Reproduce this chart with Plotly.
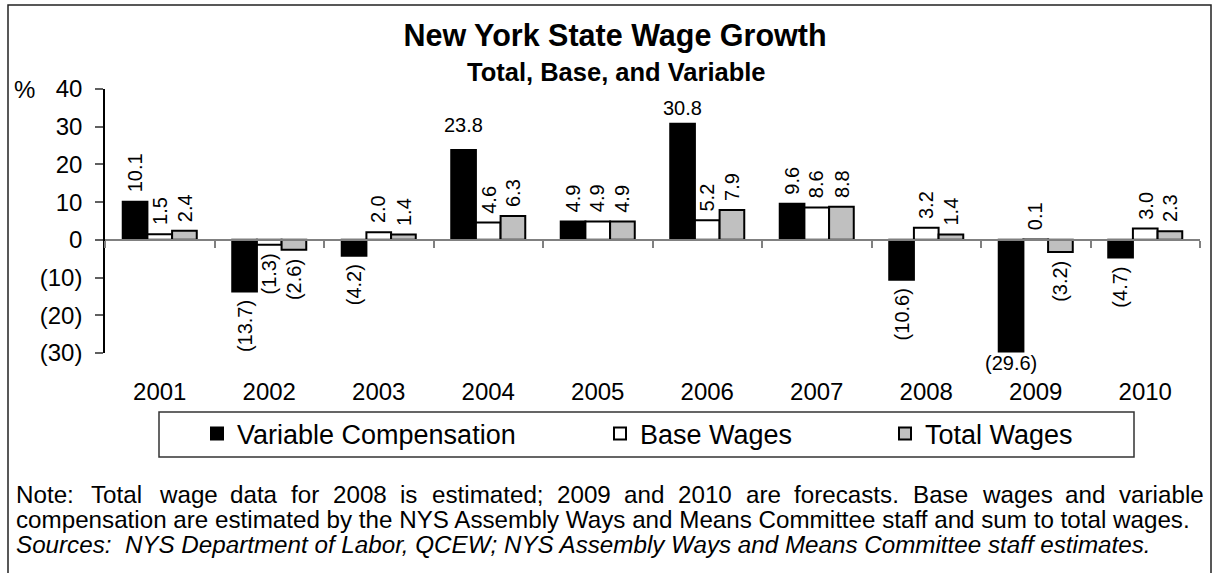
import plotly.graph_objects as go

# ---------------- data ----------------
years = ["2001", "2002", "2003", "2004", "2005", "2006", "2007", "2008", "2009", "2010"]
variable_comp = [10.1, -13.7, -4.2, 23.8, 4.9, 30.8, 9.6, -10.6, -29.6, -4.7]
base_wages = [1.5, -1.3, 2.0, 4.6, 4.9, 5.2, 8.6, 3.2, 0.1, 3.0]
total_wages = [2.4, -2.6, 1.4, 6.3, 4.9, 7.9, 8.8, 1.4, -3.2, 2.3]
series_names = ["Variable Compensation", "Base Wages", "Total Wages"]
y_tick_values = [-30, -20, -10, 0, 10, 20, 30, 40]
y_tick_labels = ["(30)", "(20)", "(10)", "0", "10", "20", "30", "40"]

title_text = "New York State Wage Growth"
subtitle_text = "Total, Base, and Variable"
note_line1 = "Note:  Total wage data for 2008 is estimated; 2009 and 2010 are forecasts. Base wages and variable"
note_line2 = "compensation are estimated by the NYS Assembly Ways and Means Committee staff and sum to total wages."
note_line3 = "Sources:\u00a0 NYS Department of Labor, QCEW; NYS Assembly Ways and Means Committee staff estimates."

# ---------------- styling / layout constants ----------------
W, H = 1217, 573
L, R, T, B = 105, 17, 89, 220
PW, PH = W - L - R, H - T - B
FONT = "Liberation Sans, Arial, sans-serif"
BARGAP = 0.324
colors = ["#000000", "#FFFFFF", "#C0C0C0"]
legends = ["legend", "legend2", "legend3"]
# labels drawn horizontally (with their own vertical gap, px)
horizontal_labels = {(0, 3): 13, (0, 5): 4, (0, 8): 0}


def xp(px):
    return (px - L) / PW


def yp(py):
    return (H - B - py) / PH


def fmt(v):
    return f"({abs(v):.1f})" if v < 0 else f"{v:.1f}"


fig = go.Figure()
series = [variable_comp, base_wages, total_wages]
for name, vals, col, leg in zip(series_names, series, colors, legends):
    fig.add_trace(go.Bar(
        x=years, y=vals, name=name, legend=leg,
        marker=dict(color=col, line=dict(color="black", width=2)),
        hoverinfo="x+y+name",
    ))

# helper trace so the zero-line category axis exists
fig.add_trace(go.Scatter(x=years, y=[0] * len(years), xaxis="x2", mode="none",
                         showlegend=False, hoverinfo="skip"))

annotations = []
bar_px = PW / len(years) * (1 - BARGAP) / 3
for si, vals in enumerate(series):
    off = (si - 1) * bar_px
    for ci, v in enumerate(vals):
        key = (si, ci)
        if key in horizontal_labels:
            g = horizontal_labels[key]
            annotations.append(dict(
                x=ci, y=v, xref="x", yref="y", text=fmt(v), showarrow=False,
                xshift=off, yshift=g if v >= 0 else -g,
                yanchor="bottom" if v >= 0 else "top", xanchor="center",
                font=dict(family=FONT, size=20, color="black"), borderpad=0))
        else:
            annotations.append(dict(
                x=ci, y=v, xref="x", yref="y", text=fmt(v), showarrow=False,
                textangle=-90, xshift=off, yshift=8 if v >= 0 else -8,
                yanchor="bottom" if v >= 0 else "top", xanchor="center",
                font=dict(family=FONT, size=20, color="black"), borderpad=0))

# percent sign
annotations.append(dict(x=xp(24), y=40, xref="paper", yref="y", text="%", showarrow=False,
                        xanchor="center", yanchor="middle",
                        font=dict(family=FONT, size=24, color="black")))

# subtitle
annotations.append(dict(x=xp(616), y=yp(72), xref="paper", yref="paper",
                        text="<b>" + subtitle_text + "</b>", showarrow=False,
                        xanchor="center", yanchor="middle",
                        font=dict(family=FONT, size=25.5, color="black")))

# ---- note text: first line justified word by word ----
AW = {' ': 278, ':': 278, ';': 278, '.': 278, ',': 278, '(': 333, ')': 333,
      'a': 556, 'b': 556, 'c': 500, 'd': 556, 'e': 556, 'f': 278, 'g': 556, 'h': 556,
      'i': 222, 'j': 222, 'k': 500, 'l': 222, 'm': 833, 'n': 556, 'o': 556, 'p': 556,
      'q': 556, 'r': 333, 's': 500, 't': 278, 'u': 556, 'v': 500, 'w': 722, 'x': 500,
      'y': 500, 'z': 500, 'A': 667, 'B': 667, 'C': 722, 'D': 722, 'E': 667, 'F': 611,
      'G': 778, 'H': 722, 'I': 278, 'L': 556, 'M': 833, 'N': 722, 'O': 778, 'P': 667,
      'Q': 778, 'R': 722, 'S': 667, 'T': 611, 'W': 944, 'Y': 667}
for d in "0123456789":
    AW[d] = 556
NOTE_SIZE = 24.2


def text_w(s, size):
    return sum(AW.get(c, 556) for c in s) * size / 1000.0


words = note_line1.split()
left_px, right_px = 15, 1203
word_w = [text_w(w, NOTE_SIZE) for w in words]
extra_first = 4
gap = (right_px - left_px - sum(word_w) - extra_first) / (len(words) - 1)
xcur = left_px
note_y = [494, 519, 544]
for i, (w, ww) in enumerate(zip(words, word_w)):
    annotations.append(dict(x=xp(xcur), y=yp(note_y[0]), xref="paper", yref="paper", text=w,
                            showarrow=False, xanchor="left", yanchor="middle", borderpad=0,
                            font=dict(family=FONT, size=NOTE_SIZE, color="black")))
    xcur += ww + gap + (extra_first if i == 0 else 0)

annotations.append(dict(x=xp(left_px), y=yp(note_y[1]), xref="paper", yref="paper", text=note_line2,
                        showarrow=False, xanchor="left", yanchor="middle", borderpad=0,
                        font=dict(family=FONT, size=NOTE_SIZE, color="black")))
annotations.append(dict(x=xp(left_px), y=yp(note_y[2]), xref="paper", yref="paper",
                        text="<i>" + note_line3 + "</i>",
                        showarrow=False, xanchor="left", yanchor="middle", borderpad=0,
                        font=dict(family=FONT, size=NOTE_SIZE, color="black")))

shapes = [
    # outer frame
    dict(type="rect", xref="paper", yref="paper", x0=xp(8), x1=xp(1211), y0=yp(5), y1=yp(590),
         line=dict(color="#222222", width=1.5), fillcolor="rgba(0,0,0,0)", layer="below"),
    # legend frame
    dict(type="rect", xref="paper", yref="paper", x0=xp(159), x1=xp(1134), y0=yp(412), y1=yp(457),
         line=dict(color="#333333", width=1.5), fillcolor="rgba(0,0,0,0)"),
]

legend_common = dict(yref="paper", y=yp(434), yanchor="middle", xanchor="left",
                     bgcolor="rgba(0,0,0,0)", borderwidth=0, itemwidth=30,
                     font=dict(family=FONT, size=27, color="black"), orientation="h")

fig.update_layout(
    width=W, height=H,
    margin=dict(l=L, r=R, t=T, b=B, autoexpand=False),
    paper_bgcolor="white", plot_bgcolor="white",
    barmode="group", bargap=BARGAP, bargroupgap=0,
    font=dict(family=FONT, color="black"),
    title=dict(
        text="<b>" + title_text + "</b>",
        x=615 / W, xanchor="center", xref="container",
        y=1 - 35 / H, yanchor="middle", yref="container",
        font=dict(family=FONT, size=30.5, color="black")),
    xaxis=dict(type="category", categoryorder="array", categoryarray=years,
               range=[-0.5, len(years) - 0.5], autorange=False,
               showline=False, ticks="outside", ticklen=17, tickcolor="rgba(0,0,0,0)",
               showgrid=False, zeroline=False,
               tickfont=dict(family=FONT, size=24, color="black")),
    xaxis2=dict(type="category", categoryorder="array", categoryarray=years,
                range=[-0.5, len(years) - 0.5], autorange=False,
                overlaying="x", anchor="free", position=yp(240), side="bottom",
                showline=True, linecolor="#808080", linewidth=2,
                ticks="outside", tickson="boundaries", ticklen=7, tickwidth=1.5,
                tickcolor="#808080", showticklabels=False, showgrid=False, zeroline=False),
    yaxis=dict(range=[-30, 40], autorange=False, tickmode="array",
               tickvals=y_tick_values, ticktext=y_tick_labels,
               showline=True, linecolor="black", linewidth=1.5,
               ticks="outside", ticklen=8, tickwidth=1.5, tickcolor="#606060",
               ticklabelstandoff=8,
               showgrid=False, zeroline=False,
               tickfont=dict(family=FONT, size=24, color="black")),
    legend=dict(x=xp(197), **legend_common),
    legend2=dict(x=xp(600), **legend_common),
    legend3=dict(x=xp(885), **legend_common),
    annotations=annotations,
    shapes=shapes,
)

fig.write_html("out.html", config={"displayModeBar": False},
               post_script="document.body.style.margin='0';document.body.style.overflow='hidden';")
